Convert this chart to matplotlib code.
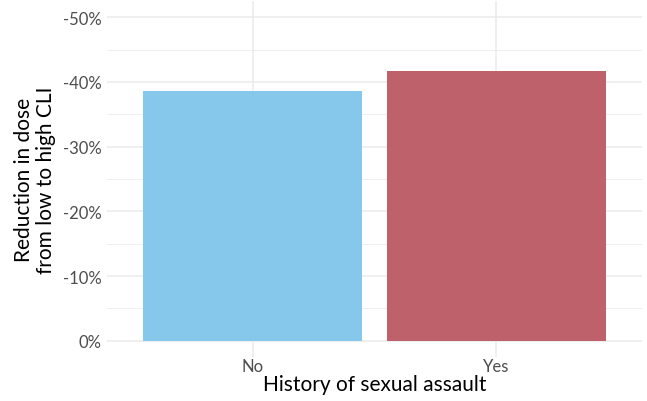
import matplotlib
matplotlib.use("Agg")
import matplotlib.pyplot as plt
from matplotlib.ticker import FuncFormatter, MultipleLocator

# data
categories = ["No", "Yes"]
reduction = [-0.386, -0.417]
bar_colors = ["#85C8EC", "#BE616A"]

plt.rcParams['font.family'] = ['Lato', 'DejaVu Sans']

fig = plt.figure(figsize=(6.47, 4.02), dpi=100)
ax = fig.add_axes([107 / 647, 44 / 402, 535 / 647, 356 / 402])

x = range(len(categories))
ax.bar(x, reduction, width=0.9, color=bar_colors, zorder=3)

ax.set_xlim(-0.6, len(categories) - 0.4)
ax.set_ylim(0.025, -0.525)

ax.yaxis.set_major_locator(MultipleLocator(0.1))
ax.yaxis.set_minor_locator(MultipleLocator(0.05))
ax.yaxis.set_major_formatter(FuncFormatter(lambda v, p: f"{v*100:.0f}%" if abs(v) > 1e-9 else "0%"))
ax.set_xticks(list(x))
ax.set_xticklabels(categories)

ax.grid(True, which='major', color='#ebebeb', linewidth=1.1, zorder=0)
ax.grid(True, which='minor', axis='y', color='#ebebeb', linewidth=0.55, zorder=0)
for s in ax.spines.values():
    s.set_visible(False)
ax.tick_params(which='both', length=0, labelsize=12, labelcolor='#4d4d4d')
ax.tick_params(axis='x', pad=1)
ax.tick_params(axis='y', pad=4)

ax.set_xlabel("History of sexual assault", fontsize=15, color='black', labelpad=0)
ax.set_ylabel("Reduction in dose\nfrom low to high CLI", fontsize=15, color='black',
              labelpad=5, linespacing=1.1)

fig.savefig("out.png", dpi=100)
